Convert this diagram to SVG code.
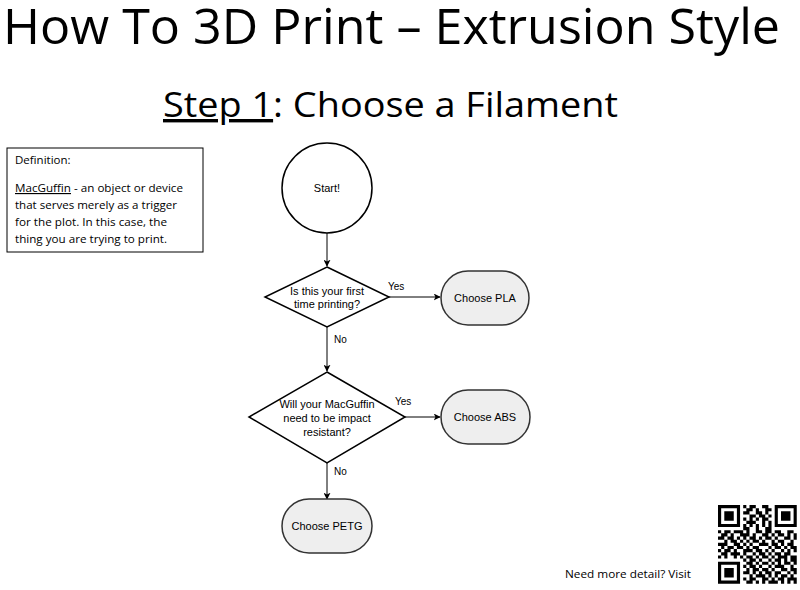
<svg xmlns="http://www.w3.org/2000/svg" width="800" height="590" viewBox="0 0 800 590">
<defs>
<style>
.cal{font-family:"Open Sans","Liberation Sans",sans-serif;fill:#000}
.fl{font-family:"Liberation Sans",Arial,sans-serif;font-size:11px;fill:#000;text-anchor:middle}
.lbl{font-family:"Liberation Sans",Arial,sans-serif;font-size:10px;fill:#000}
.shape{fill:#fff;stroke:#000;stroke-width:1.5}
.term{fill:#eeeeee;stroke:#333;stroke-width:1.5}
.edge{fill:none;stroke:#000;stroke-width:1}
</style>
<marker id="arr" viewBox="0 0 10 10" refX="9" refY="5" markerWidth="7" markerHeight="7" markerUnits="userSpaceOnUse" orient="auto">
<path d="M0 0L10 5L0 10L2.5 5z" fill="#000"/>
</marker>
</defs>
<rect width="800" height="590" fill="#fff"/>
<g id="title">
<text class="cal" x="3" y="44" font-size="50" textLength="777" lengthAdjust="spacingAndGlyphs">How To 3D Print – Extrusion Style</text>
</g>
<g id="subtitle">
<text class="cal" x="163" y="117" font-size="34" textLength="455" lengthAdjust="spacingAndGlyphs"><tspan text-decoration="underline">Step 1</tspan>: Choose a Filament</text>
</g>
<g id="definition">
<rect x="7" y="148" width="196" height="104" fill="#fff" stroke="#000" stroke-width="1"/>
<text class="cal" x="15" y="164" font-size="11.5">Definition:</text>
<text class="cal" x="15" y="192" font-size="11.5" textLength="168" lengthAdjust="spacingAndGlyphs"><tspan text-decoration="underline">MacGuffin</tspan> - an object or device</text>
<text class="cal" x="15" y="209" font-size="11.5" textLength="162" lengthAdjust="spacingAndGlyphs">that serves merely as a trigger</text>
<text class="cal" x="15" y="226" font-size="11.5" textLength="152" lengthAdjust="spacingAndGlyphs">for the plot. In this case, the</text>
<text class="cal" x="15" y="243" font-size="11.5" textLength="152" lengthAdjust="spacingAndGlyphs">thing you are trying to print.</text>
</g>
<g id="connectors">
<path class="edge" d="M327 233V266" marker-end="url(#arr)"/>
<path class="edge" d="M389 297H440" marker-end="url(#arr)"/>
<path class="edge" d="M327 327V371" marker-end="url(#arr)"/>
<path class="edge" d="M405 417H440" marker-end="url(#arr)"/>
<path class="edge" d="M327 463V499" marker-end="url(#arr)"/>
<text class="lbl" x="388" y="290">Yes</text>
<text class="lbl" x="334" y="343">No</text>
<text class="lbl" x="395" y="405">Yes</text>
<text class="lbl" x="334" y="475">No</text>
</g>
<g id="start">
<circle class="shape" cx="327" cy="188" r="45"/>
<text class="fl" x="327" y="192">Start!</text>
</g>
<g id="q1">
<path class="shape" d="M327 267L389 297L327 327L265 297Z"/>
<text class="fl" x="327" y="295">Is this your first</text>
<text class="fl" x="327" y="308">time printing?</text>
</g>
<g id="pla">
<rect class="term" x="441" y="271" width="88" height="54" rx="27"/>
<text class="fl" x="485" y="302">Choose PLA</text>
</g>
<g id="q2">
<path class="shape" d="M327 372L405 417L327 463L249 417Z"/>
<text class="fl" x="327" y="408">Will your MacGuffin</text>
<text class="fl" x="327" y="422">need to be impact</text>
<text class="fl" x="327" y="436">resistant?</text>
</g>
<g id="abs">
<rect class="term" x="441" y="390" width="89" height="54" rx="27"/>
<text class="fl" x="485" y="421">Choose ABS</text>
</g>
<g id="petg">
<rect class="term" x="282" y="499" width="90" height="54" rx="27"/>
<text class="fl" x="327" y="530">Choose PETG</text>
</g>
<g id="footer">
<text class="cal" x="565" y="578" font-size="11.5" textLength="126" lengthAdjust="spacingAndGlyphs">Need more detail? Visit</text>
</g>
<g id="qr" transform="translate(718,505) scale(3.15)">
<path fill="none" stroke="#000" stroke-width="1" d="M0 .5h7M8 .5h1M10 .5h2M14 .5h2M18 .5h7
M0 1.5h1M6 1.5h1M9 1.5h2M12 1.5h1M15 1.5h2M18 1.5h1M24 1.5h1
M0 2.5h1M2 2.5h3M6 2.5h1M8 2.5h2M12 2.5h2M15 2.5h1M18 2.5h1M20 2.5h3M24 2.5h1
M0 3.5h1M2 3.5h3M6 3.5h1M10 3.5h2M13 3.5h2M16 3.5h1M18 3.5h1M20 3.5h3M24 3.5h1
M0 4.5h1M2 4.5h3M6 4.5h1M8 4.5h1M10 4.5h1M12 4.5h1M14 4.5h2M18 4.5h1M20 4.5h3M24 4.5h1
M0 5.5h1M6 5.5h1M9 5.5h3M14 5.5h1M16 5.5h1M18 5.5h1M24 5.5h1
M0 6.5h7M8 6.5h1M10 6.5h1M12 6.5h1M14 6.5h1M16 6.5h1M18 6.5h7
M8 7.5h2M12 7.5h1M15 7.5h2
M0 8.5h1M2 8.5h2M5 8.5h3M9 8.5h1M12 8.5h2M15 8.5h2M18 8.5h2M22 8.5h2
M1 9.5h2M4 9.5h1M7 9.5h3M11 9.5h1M14 9.5h2M17 9.5h1M19 9.5h2M22 9.5h1M24 9.5h1
M0 10.5h2M3 10.5h2M6 10.5h1M8 10.5h1M10 10.5h2M13 10.5h1M15 10.5h2M18 10.5h1M21 10.5h2M24 10.5h1
M2 11.5h1M4 11.5h2M7 11.5h1M9 11.5h1M11 11.5h2M14 11.5h1M17 11.5h1M19 11.5h2M23 11.5h1
M0 12.5h3M5 12.5h2M8 12.5h1M10 12.5h1M13 12.5h3M17 12.5h2M20 12.5h1M22 12.5h2
M1 13.5h1M3 13.5h2M6 13.5h2M9 13.5h1M11 13.5h2M16 13.5h1M18 13.5h2M21 13.5h1M23 13.5h2
M0 14.5h1M2 14.5h2M5 14.5h1M8 14.5h3M12 14.5h2M15 14.5h1M17 14.5h1M20 14.5h1M22 14.5h1M24 14.5h1
M1 15.5h2M4 15.5h3M8 15.5h1M11 15.5h1M13 15.5h2M16 15.5h1M18 15.5h2M21 15.5h2
M0 16.5h1M2 16.5h1M5 16.5h1M7 16.5h1M9 16.5h2M12 16.5h1M14 16.5h2M17 16.5h1M19 16.5h3M23 16.5h2
M8 17.5h1M10 17.5h2M13 17.5h1M16 17.5h1M18 17.5h2M21 17.5h1M23 17.5h2
M0 18.5h7M9 18.5h2M12 18.5h1M14 18.5h2M17 18.5h1M19 18.5h1M21 18.5h2M24 18.5h1
M0 19.5h1M6 19.5h1M8 19.5h1M10 19.5h2M13 19.5h1M16 19.5h1M18 19.5h3M23 19.5h1
M0 20.5h1M2 20.5h3M6 20.5h1M9 20.5h1M11 20.5h2M14 20.5h2M17 20.5h1M20 20.5h2M23 20.5h2
M0 21.5h1M2 21.5h3M6 21.5h1M8 21.5h2M11 21.5h1M13 21.5h1M15 21.5h2M18 21.5h2M22 21.5h1M24 21.5h1
M0 22.5h1M2 22.5h3M6 22.5h1M10 22.5h1M12 22.5h3M16 22.5h1M18 22.5h1M20 22.5h2M23 22.5h1
M0 23.5h1M6 23.5h1M8 23.5h1M10 23.5h2M14 23.5h2M17 23.5h1M19 23.5h2M22 23.5h3
M0 24.5h7M9 24.5h2M12 24.5h1M14 24.5h1M16 24.5h3M20 24.5h1M22 24.5h1M24 24.5h1"/>
</g>
</svg>
